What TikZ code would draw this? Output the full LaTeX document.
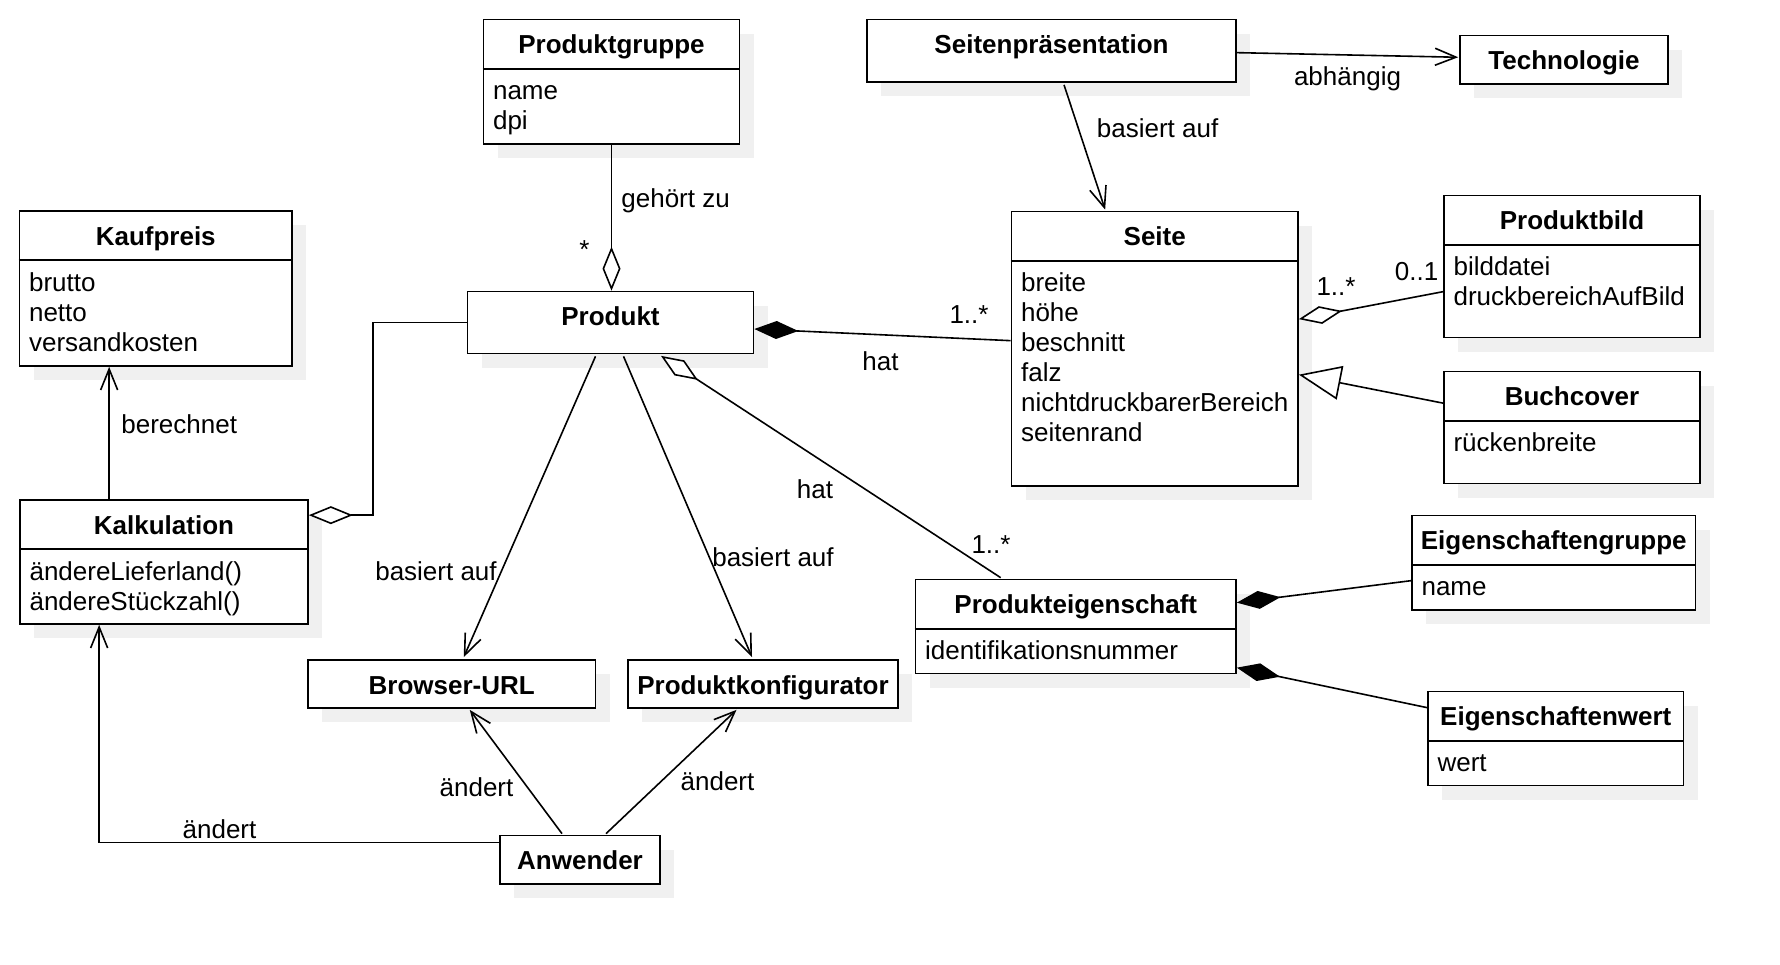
\documentclass[tikz,border=0pt]{standalone}
\usepackage{fontspec}
\setmainfont{Liberation Sans}
\usetikzlibrary{arrows.meta,calc,fit,shadows}

\tikzset{
  every node/.style={font=\fontsize{13}{15}\selectfont, inner sep=0pt},
  classbox/.style={draw, line width=0.85pt, fill=white, inner sep=0pt,
    drop shadow={shadow xshift=7pt, shadow yshift=-7pt, fill=black!6, opacity=1}},
  divider/.style={line width=0.85pt},
  ctitle/.style={font=\fontsize{13}{15}\selectfont\bfseries, anchor=base},
  cattr/.style={anchor=base west},
  lbl/.style={anchor=base},
  lblw/.style={anchor=base west},
  conn/.style={line width=0.8pt},
  assoc/.style={conn, -{Straight Barb[length=10.5pt,width=8.5pt]}},
  aggr/.style={conn, -{Diamond[fill=white,length=22pt,width=9pt]}},
  aggrs/.style={conn, {Diamond[fill=white,length=22pt,width=9pt]}-},
  comp/.style={conn, -{Diamond[length=22pt,width=9pt]}},
  gen/.style={conn, -{Triangle[fill=white,length=21pt,width=17pt]}},
}

\newcommand{\umlbox}[6]{%
  \node[classbox, fit={(#2,#3) (#4,#5)}] (#1) {};
  \node[ctitle] (#1-t) at ($(#1.north)+(0,35)$) {#6};
}
\newcommand{\umldiv}[1]{\draw[divider] ($(#1.north west)+(0,50)$) -- ($(#1.north east)+(0,50)$);}
\newcommand{\umlattr}[3]{\node[cattr] (#1-a#2) at ($(#1.north west)+(10,51+30*#2)$) {#3};}

\begin{document}
\begin{tikzpicture}[x=0.5pt,y=-0.5pt]
\useasboundingbox (0,0) rectangle (1780,964);

% classes
\umlbox{pg}{483.5}{19.5}{739.5}{144}{Produktgruppe}
\umldiv{pg}
\umlattr{pg}{1}{name}
\umlattr{pg}{2}{dpi}

\umlbox{kauf}{19.5}{211}{292}{366}{Kaufpreis}
\umldiv{kauf}
\umlattr{kauf}{1}{brutto}
\umlattr{kauf}{2}{netto}
\umlattr{kauf}{3}{versandkosten}

\umlbox{produkt}{467.5}{291.5}{753.5}{353.5}{Produkt}

\umlbox{kalk}{20}{500}{308}{624}{Kalkulation}
\umldiv{kalk}
\umlattr{kalk}{1}{ändereLieferland()}
\umlattr{kalk}{2}{ändereStückzahl()}

\umlbox{burl}{308}{660}{595.5}{708}{Browser-URL}
\umlbox{pk}{628}{660}{898}{708}{Produktkonfigurator}
\umlbox{anw}{500}{835.5}{660}{884}{Anwender}
\umlbox{sp}{867}{19.5}{1236}{82}{Seitenpräsentation}
\umlbox{tech}{1460}{35.5}{1668}{84}{Technologie}

\umlbox{seite}{1011.5}{211.5}{1298}{486}{Seite}
\umldiv{seite}
\umlattr{seite}{1}{breite}
\umlattr{seite}{2}{höhe}
\umlattr{seite}{3}{beschnitt}
\umlattr{seite}{4}{falz}
\umlattr{seite}{5}{nichtdruckbarerBereich}
\umlattr{seite}{6}{seitenrand}

\umlbox{pb}{1444}{195.5}{1700}{337.5}{Produktbild}
\umldiv{pb}
\umlattr{pb}{1}{bilddatei}
\umlattr{pb}{2}{druckbereichAufBild}

\umlbox{bc}{1444}{371.5}{1700}{483.5}{Buchcover}
\umldiv{bc}
\umlattr{bc}{1}{rückenbreite}

\umlbox{pe}{915.5}{579.5}{1236}{673.5}{Produkteigenschaft}
\umldiv{pe}
\umlattr{pe}{1}{identifikationsnummer}

\umlbox{egr}{1412}{515.5}{1695.5}{610}{Eigenschaftengruppe}
\umldiv{egr}
\umlattr{egr}{1}{name}

\umlbox{ew}{1428}{691.5}{1683.5}{785.5}{Eigenschaftenwert}
\umldiv{ew}
\umlattr{ew}{1}{wert}

% connectors
\draw[aggr] (pg.south) -- (pg.south |- produkt.north);

\coordinate (k1) at ($(kalk.north west)+(90,0)$);
\draw[assoc] (k1) -- (k1 |- kauf.south);

\coordinate (k2) at ($(kalk.north east)+(0,16)$);
\draw[aggrs] (k2) -- ++(64,0) |- (produkt.west);

\draw[assoc] ($(produkt.south)+(-15,2)$) -- ($(burl.north)+(12,-2)$);
\draw[assoc] ($(produkt.south)+(13,2)$) -- ($(pk.north)+(-11,-2)$);
\draw[assoc] ($(anw.north)+(-18,-1)$) -- ($(burl.south)+(18,1)$);
\draw[assoc] ($(anw.north)+(26,-1)$) -- ($(pk.south)+(-26.5,1)$);

\coordinate (k3) at ($(kalk.south west)+(80,0)$);
\draw[assoc] ($(anw.north west)+(0,8)$) -| (k3);

\draw[comp] ($(seite.north west)+(0,130)$) -- ($(produkt.east)+(0,6.5)$);
\draw[assoc] ($(sp.north east)+(0,34)$) -- ($(tech.west)+(-1,-2.5)$);
\draw[assoc] ($(sp.south)+(12.5,2)$) -- ($(seite.north)+(-49.6,-1)$);
\draw[aggr] ($(pb.north west)+(0,97)$) -- ($(seite.north east)+(0,108.5)$);
\draw[gen] ($(bc.north west)+(0,32.5)$) -- ($(seite.north east)+(0,164)$);
\draw[aggr] ($(pe.north west)+(86,-1)$) -- ($(produkt.south)+(50.5,1.5)$);
\draw[comp] ($(egr.north west)+(0,66)$) -- ($(pe.north east)+(0,24)$);
\draw[comp] ($(ew.north west)+(0,17)$) -- ($(pe.north east)+(0,89)$);

% labels
\node[lbl] (l-star) at (584.5,258) {*};
\node[lblw] (l-gehoert) at (621,207) {gehört zu};
\node[lblw] (l-berechnet) at (121,433) {berechnet};
\node[lbl] (l-bas1) at (436,580) {basiert auf};
\node[lbl] (l-bas2) at (773,566) {basiert auf};
\node[lbl] (l-and1) at (476.5,796) {ändert};
\node[lbl] (l-and2) at (717.5,790) {ändert};
\node[lbl] (l-and3) at (219.5,838) {ändert};
\node[lbl] (l-hat1) at (880.5,370) {hat};
\node[lbl] (l-m1) at (969,323) {1..*};
\node[lbl] (l-abh) at (1347.5,85) {abhängig};
\node[lblw] (l-bas3) at (1096.5,137) {basiert auf};
\node[lbl] (l-m2) at (1336,295) {1..*};
\node[lbl] (l-m3) at (1416.5,280) {0..1};
\node[lbl] (l-hat2) at (815,498) {hat};
\node[lbl] (l-m4) at (991,553) {1..*};
\end{tikzpicture}
\end{document}
